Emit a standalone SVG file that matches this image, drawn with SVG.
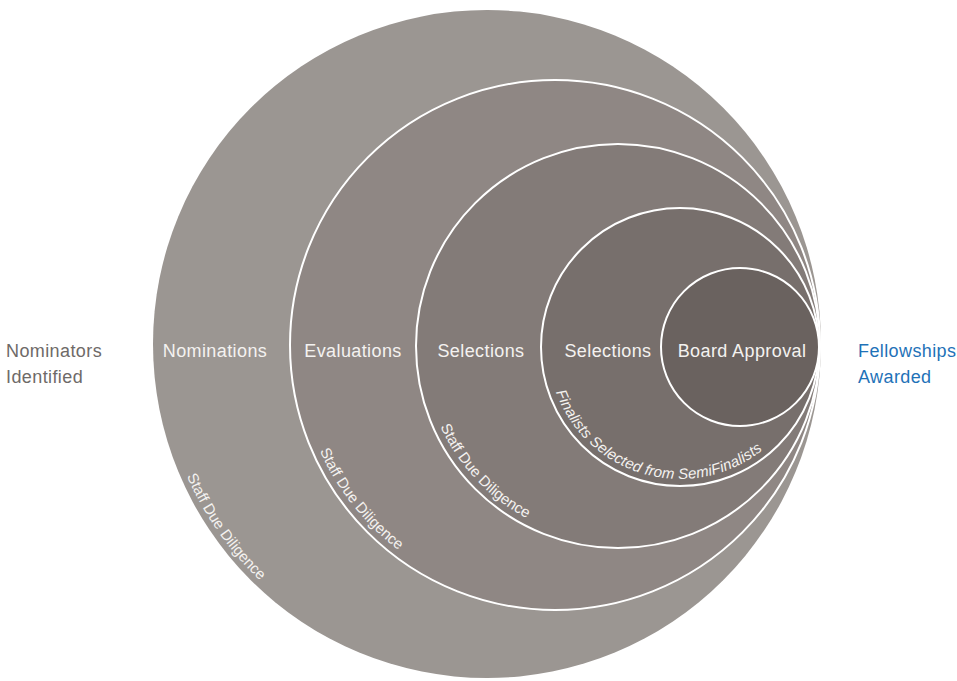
<svg xmlns="http://www.w3.org/2000/svg" xmlns:xlink="http://www.w3.org/1999/xlink" width="957" height="681" viewBox="0 0 957 681">
<style>
.ring{stroke:#ffffff;stroke-width:2}
.lbl{font-family:"Liberation Sans",Arial,sans-serif;font-size:18px;letter-spacing:0.4px;fill:#f4f2f0;text-anchor:middle}
.side{font-family:"Liberation Sans",Arial,sans-serif;font-size:18px;letter-spacing:0.4px}
.arc{font-family:"Liberation Sans",Arial,sans-serif;font-size:15px;fill:#f4f2f0}
.arci{font-family:"Liberation Sans",Arial,sans-serif;font-size:15px;letter-spacing:0.15px;font-style:italic;fill:#f4f2f0}
</style>
<defs>
<path id="p1" d="M159,344 A328,328 0 0 0 815,344"/>
<path id="p2" d="M297,345 A258,258 0 0 0 813,345"/>
<path id="p3" d="M423,346 A195,195 0 0 0 813,346"/>
<path id="p4" d="M548,347 A132,132 0 0 0 812,347"/>
</defs>
<rect width="957" height="681" fill="#ffffff"/>
<g id="c1"><circle cx="487" cy="344" r="334" fill="#9b9692"/><text class="lbl" x="215" y="357">Nominations</text><text class="arc"><textPath xlink:href="#p1" startOffset="136">Staff Due Diligence</textPath></text></g>
<g id="c2"><circle class="ring" cx="555" cy="345" r="265" fill="#8f8784"/><text class="lbl" x="353" y="357">Evaluations</text><text class="arc"><textPath xlink:href="#p2" startOffset="109">Staff Due Diligence</textPath></text></g>
<g id="c3"><circle class="ring" cx="618" cy="346" r="202" fill="#837b78"/><text class="lbl" x="481" y="357">Selections</text><text class="arc"><textPath xlink:href="#p3" startOffset="83">Staff Due Diligence</textPath></text></g>
<g id="c4"><circle class="ring" cx="680" cy="347" r="139" fill="#776f6c"/><text class="lbl" x="608" y="357">Selections</text><text class="arci"><textPath xlink:href="#p4" startOffset="46">Finalists Selected from SemiFinalists</textPath></text></g>
<g id="c5"><circle class="ring" cx="740" cy="347" r="79" fill="#6a625f"/><text class="lbl" x="742" y="357">Board Approval</text></g>
<g id="start"><text class="side" x="6" y="357" fill="#6e6a68">Nominators</text><text class="side" x="6" y="383" fill="#6e6a68">Identified</text></g>
<g id="end"><text class="side" x="858" y="357" fill="#1f72b8">Fellowships</text><text class="side" x="858" y="383" fill="#1f72b8">Awarded</text></g>
<g id="connectors"/>
</svg>
